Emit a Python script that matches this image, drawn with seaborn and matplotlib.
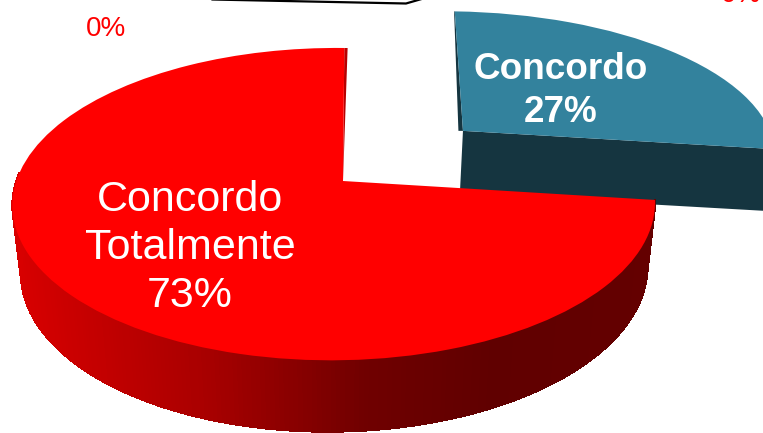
import numpy as np
import matplotlib
matplotlib.use("Agg")
import matplotlib.pyplot as plt
import seaborn as sns
from matplotlib.collections import PolyCollection
from matplotlib.colors import LinearSegmentedColormap
from matplotlib.transforms import Transform

categories = ["Concordo", "Concordo Totalmente", "Discordo", "Discordo Totalmente"]
values = [27, 73, 0, 0]
colors = ["#33829d", "#ff0000", "#ff0000", "#ff0000"]
explode = [0.55, 0, 0, 0]
wall_blue = "#153540"
zero_labels = ["0%", "0%"]

sns.set_theme(style="white")
plt.rcParams["font.family"] = ["Liberation Sans", "DejaVu Sans"]

W, H = 763, 433
CX, CY, A, B, S, K, M, HZ, DZ = 343.0, 181.0, 317.5, 152.7, 1.5, 0.148, 0.028, 67.0, 0.025


class Persp(Transform):
    input_dims = output_dims = 2

    def __init__(self, z=0.0, gain=1.0, shear=S, dx=0.0, dy=0.0):
        super().__init__()
        self.z, self.gain, self.shear, self.dx, self.dy = z, gain, shear, dx, dy

    def transform_non_affine(self, xy):
        xy = np.asarray(xy, float)
        u, v = xy[:, 0], xy[:, 1]
        w = 1 + K * v + M * u + DZ * self.z
        return np.column_stack([CX + self.dx + (A * self.gain * u + self.shear * v) / w,
                                CY + self.dy - (B * v - HZ * self.z) / w])


fig = plt.figure(figsize=(W / 100, H / 100), dpi=100)
ax = fig.add_axes([0, 0, 1, 1])
wedges, _ = ax.pie(values, colors=colors, explode=explode, startangle=90, counterclock=False,
                   wedgeprops=dict(linewidth=0))
ax.set_aspect("auto")
ax.set_xlim(0, W)
ax.set_ylim(H, 0)
ax.axis("off")

P0, P1 = Persp(0), Persp(1)
Q = dict(gain=1.07, shear=10.0, dx=-15.0, dy=2.0)
Q0, Q1 = Persp(0, **Q), Persp(1, **Q)
fracs = np.cumsum(values) / np.sum(values)
split = 90 - 360 * fracs[0]      # angle where the first slice ends
mid = np.deg2rad(90 - 180 * fracs[0])
off = explode[0] * np.array([np.cos(mid), np.sin(mid)])

# blue slice: outer cut face
r = np.linspace(0, 1, 2)
cut = np.column_stack([r * np.cos(np.deg2rad(split)), r * np.sin(np.deg2rad(split))]) + off
blue_face = np.vstack([Q0.transform(cut), Q1.transform(cut)[::-1]])
ax.fill(blue_face[:, 0], blue_face[:, 1], color=wall_blue, lw=0, zorder=1)
# blue slice: sliver on the left radial edge
t = np.array([0.0, 1.0])
sl = np.column_stack([-0.012 * (1.2 - t), t]) + off
sl0 = np.column_stack([0 * t, t]) + off
pts = np.vstack([Q0.transform(sl), Q0.transform(sl0)[::-1]])
ax.fill(pts[:, 0], pts[:, 1], color=wall_blue, lw=0, zorder=2)
wedges[0].set_transform(Q0 + ax.transData)
wedges[0].set_zorder(3)

# red slice: outer wall, shaded along its width
th = np.deg2rad(np.linspace(split, -183, 240))
circ = np.column_stack([np.cos(th), np.sin(th)])
top, bot = P0.transform(circ), P1.transform(circ)
cmap = LinearSegmentedColormap.from_list(
    "wall", [(0, "#d80000"), (0.3, "#a80000"), (0.55, "#700000"), (0.75, "#600000"), (1, "#640000")])
quads, cols = [], []
for i in range(len(th) - 1):
    quads.append([top[i], top[i + 1], bot[i + 1], bot[i]])
    cols.append(cmap((top[i, 0] - 12) / (656 - 12)))
ax.add_collection(PolyCollection(quads, facecolors=cols, edgecolors=cols, linewidths=0.8,
                                 antialiaseds=False, zorder=4))
# red slice: sliver on the upper radial edge
sl = np.column_stack([0.012 * t, t])
sl0 = np.column_stack([0 * t, t])
pts = np.vstack([P0.transform(sl), P0.transform(sl0)[::-1]])
ax.fill(pts[:, 0], pts[:, 1], color="#b80000", lw=0, zorder=5)
wedges[1].set_transform(P0 + ax.transData)
wedges[1].set_zorder(6)
for wd in wedges[2:]:
    wd.set_visible(False)

# stray callout line running off the top edge
ax.plot([212, 406, 432], [-0.5, 3.5, -4], color="black", lw=1.6, zorder=7)

ax.text(190, 248, "Concordo\nTotalmente\n73%", color="white", fontsize=31, ha="center",
        va="center", linespacing=1.25, zorder=8)
ax.text(561, 91, "Concordo\n27%", color="white", fontsize=26.6, fontweight="bold", ha="center",
        va="center", linespacing=1.28, zorder=8)
ax.text(106, 29, zero_labels[0], color="red", fontsize=20, ha="center", va="center", zorder=8)
ax.text(741, -5, zero_labels[1], color="red", fontsize=20, ha="center", va="center", zorder=8)

fig.savefig("out.png", dpi=100)
